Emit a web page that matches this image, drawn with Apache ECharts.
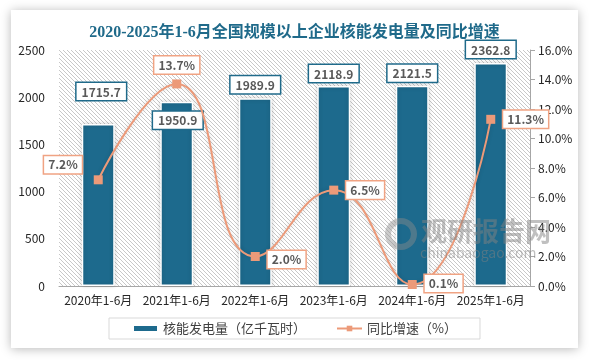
<!DOCTYPE html>
<html>
<head>
<meta charset="utf-8">
<script src="https://cdn.jsdelivr.net/npm/echarts@6/dist/echarts.min.js"></script>
<style>
html,body{margin:0;padding:0;background:#ffffff;}
#wrap{position:relative;width:589px;height:361px;overflow:hidden;background:#ffffff;}
#card{position:absolute;left:11px;top:10px;width:567px;height:338px;background:#ffffff;
  box-shadow:0 1px 10px rgba(0,0,0,0.28);}
#hatch{position:absolute;left:59px;top:50px;width:471px;height:236px;background-color:#f4f4f4;}
#chart{position:absolute;left:0;top:0;width:589px;height:361px;}
</style>
</head>
<body>
<div id="wrap">
<div id="card"></div>
<div id="hatch"></div>
<div id="chart"></div>
</div>
<script>
var categories = ['2020年1-6月','2021年1-6月','2022年1-6月','2023年1-6月','2024年1-6月','2025年1-6月'];
var powerValues = [1715.7, 1950.9, 1989.9, 2118.9, 2121.5, 2362.8];
var growthValues = [7.2, 13.7, 2.0, 6.5, 0.1, 11.3];
var leftTicks = {min: 0, max: 2500, interval: 500};
var rightTicks = {min: 0, max: 16, interval: 2};

var FONT = '"Noto Sans CJK SC", "Microsoft YaHei", sans-serif';
var TITLE_FONT = '"Liberation Serif", "Noto Sans CJK SC", serif';
var BAR_COLOR = '#1D6A8D';
var LINE_COLOR = '#EC9A79';

// hatch tile (diagonal "\" lines) for the plot background
(function(){
  var c = document.createElement('canvas');
  c.width = 4; c.height = 4;
  var g = c.getContext('2d');
  var img = g.createImageData(4,4);
  for (var y=0; y<4; y++){
    for (var x=0; x<4; x++){
      var i = (y*4+x)*4;
      var on = (x===y);
      var v = on ? 200 : 255;
      img.data[i]=v; img.data[i+1]=v; img.data[i+2]=v; img.data[i+3]=255;
    }
  }
  g.putImageData(img,0,0);
  var el = document.getElementById('hatch');
  el.style.backgroundImage = 'url(' + c.toDataURL() + ')';
  el.style.backgroundRepeat = 'repeat';
})();

var barLabelCfg = [
  {position:'top', distance:24, offset:[3,0]},
  {position:'insideTop', distance:10, offset:[1,0]},
  {position:'top', distance:5},
  {position:'top', distance:4},
  {position:'top', distance:4},
  {position:'top', distance:5}
];
var lineLabelCfg = [
  {position:'left', distance:12, offset:[0,-15]},
  {position:'top', distance:6},
  {position:'right', distance:8, offset:[0,3]},
  {position:'right', distance:8},
  {position:'right', distance:8, offset:[0,-1]},
  {position:'right', distance:8}
];

var barData = powerValues.map(function(v,i){
  return {value:v, label:barLabelCfg[i]};
});
var lineData = growthValues.map(function(v,i){
  return {value:v, label:lineLabelCfg[i]};
});

var chart = echarts.init(document.getElementById('chart'), null, {renderer:'canvas'});
chart.setOption({
  animation:false,
  backgroundColor:'transparent',
  textStyle:{fontFamily:FONT},
  graphic:[
    {type:'circle', z:100, silent:true,
     shape:{cx:401, cy:234, r:13},
     style:{fill:'none', stroke:'rgba(140,140,140,0.45)', lineWidth:6}},
    {type:'text', z:100, silent:true, left:421, top:218,
     style:{text:'观研报告网', fontSize:26, fontWeight:'bold', fontFamily:FONT, fill:'rgba(130,130,130,0.5)'}},
    {type:'text', z:100, silent:true, left:420, top:246,
     style:{text:'chinabaogao.com', fontSize:14, fontFamily:FONT, fill:'rgba(130,130,130,0.5)'}}
  ],
  title:{
    text:'2020-2025年1-6月全国规模以上企业核能发电量及同比增速',
    left:'center', top:20,
    textStyle:{fontSize:16, fontWeight:'bold', color:'#1F6A8A', fontFamily:TITLE_FONT}
  },
  legend:{
    left:'center', top:318,
    padding:[4,23],
    itemGap:30,
    itemWidth:25, itemHeight:7,
    borderColor:'#d9d9d9', borderWidth:1,
    textStyle:{fontSize:13, color:'#404040', fontFamily:FONT},
    data:[
      {name:'核能发电量（亿千瓦时）', icon:'rect'},
      {name:'同比增速（%）'}
    ]
  },
  grid:{left:59, right:59, top:50, bottom:75},
  xAxis:{
    type:'category', data:categories,
    axisLine:{show:true, lineStyle:{color:'#a6a6a6', width:1}},
    axisTick:{show:false},
    axisLabel:{fontSize:12, color:'#262626', margin:8, interval:0}
  },
  yAxis:[
    {type:'value', min:leftTicks.min, max:leftTicks.max, interval:leftTicks.interval,
     axisLine:{show:false}, axisTick:{show:false}, splitLine:{show:false},
     axisLabel:{fontSize:12, color:'#262626', margin:14,
       formatter:function(v){return String(v);}}},
    {type:'value', min:rightTicks.min, max:rightTicks.max, interval:rightTicks.interval,
     position:'right',
     axisLine:{show:true, lineStyle:{color:'#a6a6a6'}},
     axisTick:{show:true, length:5, lineStyle:{color:'#a6a6a6'}},
     splitLine:{show:false},
     axisLabel:{fontSize:12, color:'#262626', margin:8,
       formatter:function(v){return v.toFixed(1)+'%';}}}
  ],
  series:[
    {name:'核能发电量（亿千瓦时）', type:'bar', yAxisIndex:0, data:barData,
     barWidth:'42%',
     itemStyle:{color:BAR_COLOR, borderColor:'#ffffff', borderWidth:1.5,
       shadowBlur:4, shadowColor:'rgba(0,0,0,0.2)'},
     label:{show:true, fontSize:12, fontWeight:'bold', color:'#595959', fontFamily:FONT,
       backgroundColor:'#ffffff', borderColor:'#1F6A8A', borderWidth:1.5,
       padding:[3,5,2,5],
       formatter:function(p){return p.value.toFixed(1);}}
    },
    {name:'同比增速（%）', type:'line', yAxisIndex:1, data:lineData,
     smooth:0.5, z:5,
     symbol:'rect', symbolSize:9,
     lineStyle:{color:LINE_COLOR, width:2, shadowBlur:4, shadowColor:'rgba(0,0,0,0.15)'},
     itemStyle:{color:LINE_COLOR},
     label:{show:true, fontSize:12, fontWeight:'bold', color:'#595959', fontFamily:FONT,
       backgroundColor:'#ffffff', borderColor:'#F0A383', borderWidth:1.5,
       padding:[3,4,2,4],
       formatter:function(p){return p.value.toFixed(1)+'%';}}
    }
  ]
});
</script>
</body>
</html>
